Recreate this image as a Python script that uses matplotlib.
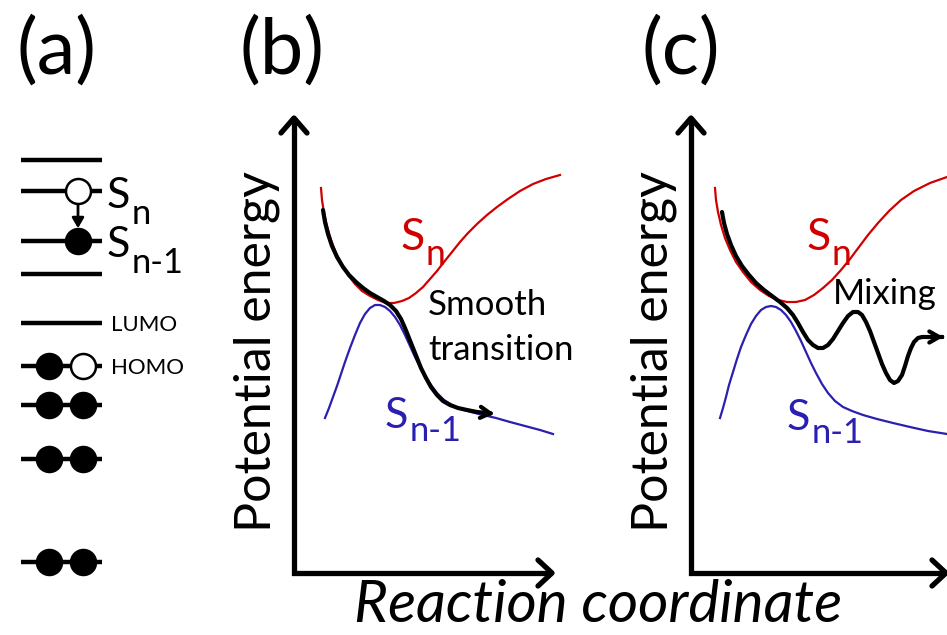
import matplotlib.pyplot as plt
import numpy as np

plt.rcParams['font.family'] = ['Lato', 'DejaVu Sans']

RED = '#d00000'
BLUE = '#2a1fb0'

# orbital levels in panel (a): y position and occupancy (None = empty line)
level_y = [160, 191, 241, 274, 323, 366, 405, 459, 562]
level_fill = [None, ('n', 'o'), ('n', 'f'), None, None, ('f', 'o'), ('f', 'f'), ('f', 'f'), ('f', 'f')]

# potential curves, panel (b)
sn_b_x = [321, 322, 324, 327, 331, 336, 342, 348, 355, 362, 370, 378, 386, 394, 402, 409, 416, 423,
          430, 437, 444, 452, 460, 468, 477, 487, 497, 508, 520, 533, 546, 560]
sn_b_y = [188, 200, 213, 226, 240, 253, 265, 275, 284, 291, 296, 300, 303, 303, 301, 298, 293, 287,
          279, 271, 262, 252, 242, 233, 224, 215, 207, 199, 191, 184, 179, 175]
sn1_b_x = [325, 329, 333, 337, 341, 345, 350, 355, 360, 365, 370, 375, 380, 385, 390, 395, 400, 405,
           410, 415, 420, 425, 431, 437, 444, 452, 461, 471, 483, 496, 510, 525, 540, 553]
sn1_b_y = [418, 408, 397, 386, 374, 362, 348, 335, 323, 314, 308, 305, 305, 307, 311, 317, 325, 335,
           346, 357, 367, 376, 385, 393, 400, 405, 409, 412, 415, 418, 422, 426, 430, 434]
path_b_x = [323, 325, 328, 332, 337, 343, 349, 356, 363, 370, 377, 384, 390, 396, 401, 405, 409, 413,
            417, 421, 426, 431, 437, 443, 450, 458, 467, 477, 487, 497]
path_b_y = [210, 222, 234, 246, 257, 267, 275, 282, 288, 293, 297, 301, 305, 311, 319, 328, 338, 348,
            358, 368, 378, 387, 395, 401, 405, 408, 410, 412, 413, 414]

# potential curves, panel (c)
sn_c_x = [715, 716, 718, 721, 725, 730, 736, 743, 751, 760, 769, 778, 787, 796, 805, 814, 823, 832,
          841, 850, 859, 868, 878, 889, 901, 914, 930, 947]
sn_c_y = [188, 200, 212, 225, 238, 250, 262, 272, 282, 290, 296, 300, 302, 302, 300, 295, 288, 280,
          270, 259, 247, 235, 223, 211, 200, 191, 183, 177]
sn1_c_x = [720, 723, 726, 729, 733, 737, 741, 746, 751, 756, 761, 766, 771, 776, 781, 786, 791, 796,
           801, 806, 811, 816, 822, 828, 835, 843, 852, 863, 877, 893, 910, 928, 947]
sn1_c_y = [418, 408, 397, 385, 372, 359, 347, 335, 324, 316, 310, 307, 306, 307, 310, 315, 322, 331,
           341, 352, 363, 373, 384, 393, 401, 407, 411, 415, 419, 423, 427, 431, 434]
path_c_x = [722, 724, 727, 731, 736, 742, 749, 756, 764, 772, 780, 787, 793, 798, 803, 808, 813, 818,
            823, 828, 833, 838, 843, 848, 853, 858, 862, 866, 870, 874, 878, 882, 886, 890, 894, 898,
            902, 905, 908, 911, 914, 918, 922, 927, 933, 939, 946]
path_c_y = [212, 223, 234, 245, 256, 266, 275, 283, 290, 296, 302, 308, 315, 323, 332, 340, 345, 348,
            348, 345, 339, 331, 323, 316, 312, 312, 315, 322, 331, 342, 353, 364, 373, 380, 383, 381,
            375, 366, 356, 348, 342, 338, 337, 337, 337, 337, 337]

fig = plt.figure(figsize=(9.47, 6.35), dpi=100)
ax = fig.add_axes([0, 0, 1, 1])
ax.set_xlim(0, 947)
ax.set_ylim(635, 0)
ax.axis('off')


def state_label(x, y, sub, size, color='black', drop=0.2, ratio=0.8):
    t = ax.text(x, y, 'S', fontsize=size, color=color, ha='left', va='baseline')
    ax.annotate(sub, xy=(1, 0), xycoords=t, xytext=(1, -size * drop), textcoords='offset points',
                fontsize=size * ratio, color=color, ha='left', va='baseline')


# panel labels
for lab, x in zip(['(a)', '(b)', '(c)'], [57, 282, 681]):
    ax.text(x, 52, lab, fontsize=56, ha='center', va='center')

# panel (a): energy levels with electrons
for y, occ in zip(level_y, level_fill):
    ax.plot([21, 102], [y, y], color='black', lw=3.2, solid_capstyle='butt', zorder=1)
    if occ is None:
        continue
    if occ[0] == 'n':
        xs = [78]
        kinds = [occ[1]]
    else:
        xs = [49, 83]
        kinds = list(occ)
    for cx, k in zip(xs, kinds):
        face = 'black' if k == 'f' else 'white'
        ax.plot(cx, y, 'o', ms=18, mfc=face, mec='black', mew=1.8, zorder=3)
ax.annotate('', xy=(78, 231), xytext=(78, 202),
            arrowprops=dict(arrowstyle='-|>,head_width=0.35,head_length=0.6', color='black', lw=2))
state_label(107, 208, 'n', 31)
state_label(107, 257, 'n-1', 31)
ax.text(111, 325, 'LUMO', fontsize=16, va='center')
ax.text(111, 368, 'HOMO', fontsize=16, va='center')

# axes arrows for (b) and (c)
for x0, x1 in [(294, 552), (691, 946)]:
    ax.plot([x0, x0, x1 - 4], [122, 573, 573], color='black', lw=3.8, solid_joinstyle='miter')
    ax.plot([x0 - 13, x0, x0 + 13], [133, 118, 133], color='black', lw=3.8, solid_capstyle='round')
    ax.plot([x1 - 14, x1, x1 - 14], [560, 573, 586], color='black', lw=3.8, solid_capstyle='round')
    ax.text(x0 - 37, 352, 'Potential energy', fontsize=36, rotation=90, ha='center', va='center')

ax.text(598, 606, 'Reaction coordinate', fontsize=42, style='italic', ha='center', va='center')

# panel (b)
ax.plot(sn_b_x, sn_b_y, color=RED, lw=1.6)
ax.plot(sn1_b_x, sn1_b_y, color=BLUE, lw=1.6)
ax.plot(path_b_x[:-1], path_b_y[:-1], color='black', lw=3, solid_capstyle='round')
ax.annotate('', xy=(path_b_x[-1], path_b_y[-1]), xytext=(path_b_x[-2], path_b_y[-2]),
            arrowprops=dict(arrowstyle='->,head_width=0.4,head_length=0.7', color='black', lw=3))
state_label(400, 250, 'n', 32, RED, drop=0.15)
state_label(385, 428, 'n-1', 31, BLUE, drop=0.15)
ax.text(428, 305, 'Smooth', fontsize=25, va='center')
ax.text(428, 350, 'transition', fontsize=25, va='center')

# panel (c)
ax.plot(sn_c_x, sn_c_y, color=RED, lw=1.6)
ax.plot(sn1_c_x, sn1_c_y, color=BLUE, lw=1.6)
ax.plot(path_c_x[:-1], path_c_y[:-1], color='black', lw=3, solid_capstyle='round')
ax.annotate('', xy=(path_c_x[-1], path_c_y[-1]), xytext=(path_c_x[-2], path_c_y[-2]),
            arrowprops=dict(arrowstyle='->,head_width=0.4,head_length=0.7', color='black', lw=3))
state_label(806, 250, 'n', 32, RED, drop=0.15)
state_label(787, 430, 'n-1', 31, BLUE, drop=0.15)
ax.text(833, 294, 'Mixing', fontsize=25, va='center')

fig.savefig('out.png', dpi=100)
